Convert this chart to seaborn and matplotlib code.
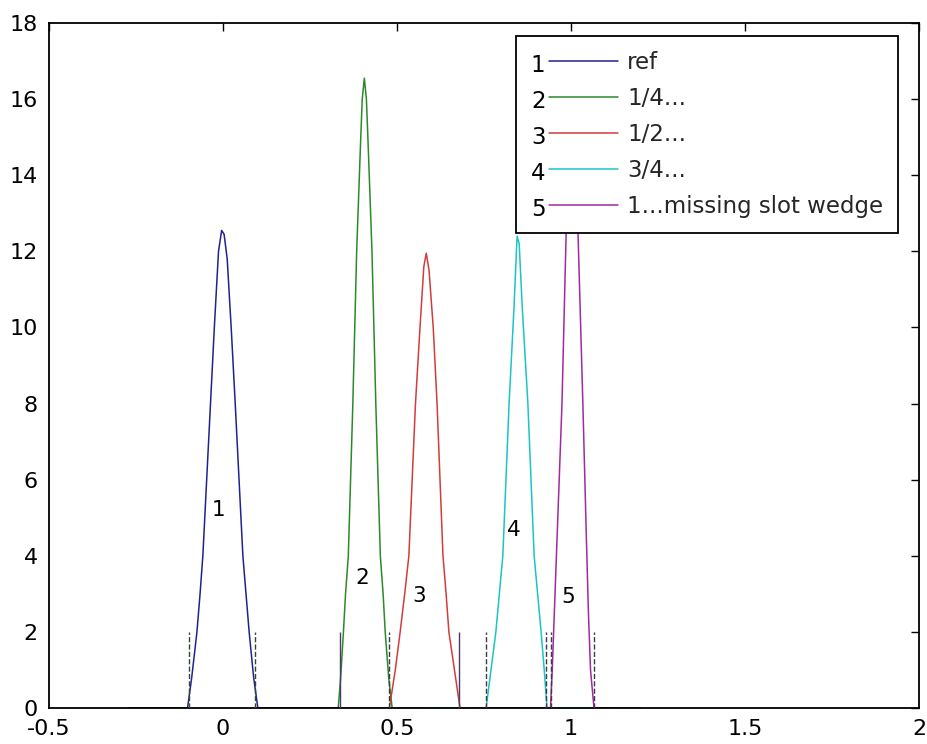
import matplotlib
matplotlib.use('Agg')
import matplotlib.pyplot as plt
import seaborn as sns
import pandas as pd
from matplotlib.legend_handler import HandlerBase
from matplotlib.lines import Line2D
from matplotlib.text import Text

# ---------------- data ----------------
names = ["ref", "1/4...", "1/2...", "3/4...", "1...missing slot wedge"]
digits = ["1", "2", "3", "4", "5"]
colors = ["#22228e", "#2a8a2a", "#d23c3c", "#1cc4c4", "#a02aa0"]

x1 = [-0.27, -0.102, -0.090, -0.075, -0.066, -0.058, -0.047, -0.036, -0.025, -0.013, -0.004,
      0.003, 0.012, 0.024, 0.035, 0.046, 0.057, 0.066, 0.075, 0.088, 0.100, 0.27]
y1 = [0, 0, 0.8, 2.0, 3.0, 4.0, 6.0, 8.0, 10.0, 12.0, 12.55,
      12.45, 11.8, 9.9, 8.0, 6.0, 4.0, 3.0, 2.0, 0.8, 0, 0]

x2 = [0.14, 0.331, 0.338, 0.346, 0.352, 0.360, 0.373, 0.384, 0.395, 0.400, 0.406,
      0.412, 0.417, 0.428, 0.439, 0.452, 0.460, 0.466, 0.476, 0.486, 0.68]
y2 = [0, 0, 0.8, 2.0, 3.0, 4.0, 8.0, 12.0, 14.8, 16.0, 16.55,
      16.0, 14.8, 12.0, 8.0, 4.0, 3.0, 2.0, 0.8, 0, 0]

x3 = [0.31, 0.478, 0.495, 0.509, 0.522, 0.534, 0.553, 0.566, 0.577, 0.584,
      0.592, 0.604, 0.615, 0.632, 0.641, 0.649, 0.665, 0.681, 0.85]
y3 = [0, 0, 1.0, 2.0, 3.0, 4.0, 8.0, 10.0, 11.6, 11.95,
      11.5, 10.0, 8.0, 4.0, 3.0, 2.0, 1.0, 0, 0]

x4 = [0.58, 0.756, 0.770, 0.784, 0.794, 0.804, 0.822, 0.836, 0.845,
      0.851, 0.860, 0.876, 0.894, 0.904, 0.914, 0.923, 0.931, 1.12]
y4 = [0, 0, 1.0, 2.0, 3.0, 4.0, 8.0, 10.5, 12.4,
      12.2, 10.5, 8.0, 4.0, 3.0, 2.0, 1.0, 0, 0]

x5 = [0.73, 0.941, 0.946, 0.950, 0.956, 0.974, 0.986, 0.996,
      1.004, 1.020, 1.034, 1.044, 1.050, 1.056, 1.066, 1.20]
y5 = [0, 0, 1.0, 2.0, 3.5, 8.0, 12.5, 14.5,
      14.5, 12.5, 8.0, 4.5, 2.5, 1.0, 0, 0]

marker_x = [-0.098, 0.092, 0.336, 0.477, 0.679, 0.756, 0.928, 0.943, 1.066]
marker_top = [2.0, 2.0, 2.0, 2.0, 2.0, 2.0, 2.0, 2.0, 2.0]
marker_style = ["--", "--", "-", "--", "-", "--", "--", "--", "--"]
marker_color = ["#2f4a2f", "#2f4a2f", "#4a3a6a", "#3a3a4a", "#4a3a6a",
                "#3a3a4a", "#3a3a4a", "#3a3a4a", "#3a3a4a"]

label_x = [-0.014, 0.400, 0.563, 0.836, 0.991]
label_y = [5.2, 3.42, 2.94, 4.68, 2.92]

xticks = [-0.5, 0, 0.5, 1, 1.5, 2]
xtick_labels = ["-0.5", "0", "0.5", "1", "1.5", "2"]
yticks = [0, 2, 4, 6, 8, 10, 12, 14, 16, 18]
ytick_labels = ["0", "2", "4", "6", "8", "10", "12", "14", "16", "18"]

# ---------------- frame ----------------
sns.set_style("white")
plt.rcParams["font.family"] = ["DejaVu Sans"]

fig = plt.figure(figsize=(9.27, 7.44), dpi=100)
ax = fig.add_axes([0.0529, 0.0484, 0.9385, 0.9207])

xs = [x1, x2, x3, x4, x5]
ys = [y1, y2, y3, y4, y5]
frames = []
for n, xx, yy in zip(names, xs, ys):
    frames.append(pd.DataFrame({"x": xx, "y": yy, "series": n}))
df = pd.concat(frames, ignore_index=True)

sns.lineplot(data=df, x="x", y="y", hue="series", hue_order=names,
             palette=dict(zip(names, colors)), estimator=None, sort=False,
             legend=False, linewidth=1.1, ax=ax)

for mx, mt, ms, mc in zip(marker_x, marker_top, marker_style, marker_color):
    ax.vlines(mx, 0, mt, colors=mc, linestyles=ms, linewidth=1.0, zorder=3)

for d, lx, ly in zip(digits, label_x, label_y):
    ax.text(lx, ly, d, ha="center", va="center", fontsize=15.5, color="black")

ax.set_xlim(-0.5, 2)
ax.set_ylim(0, 18)
ax.set_xticks(xticks)
ax.set_xticklabels(xtick_labels)
ax.set_yticks(yticks)
ax.set_yticklabels(ytick_labels)
ax.set_xlabel("")
ax.set_ylabel("")
ax.tick_params(direction="in", length=6, width=1, top=True, right=True,
               labelsize=16, pad=8, colors="black")
for s in ax.spines.values():
    s.set_visible(True)
    s.set_color("black")
    s.set_linewidth(1.3)


# ---------------- legend ----------------
class Key:
    def __init__(self, digit, color):
        self.digit = digit
        self.color = color


class KeyHandler(HandlerBase):
    def create_artists(self, legend, orig_handle, xdescent, ydescent,
                       width, height, fontsize, trans):
        yc = height / 2 - ydescent
        t = Text(-xdescent, yc - 0.2 * fontsize, orig_handle.digit,
                 fontsize=fontsize, color="black", ha="left", va="center",
                 transform=trans)
        ln = Line2D([-xdescent + 0.78 * fontsize, -xdescent + width], [yc, yc],
                    color=orig_handle.color, linewidth=1.1, transform=trans)
        return [t, ln]


keys = [Key(d, c) for d, c in zip(digits, colors)]
leg = ax.legend(handles=keys, labels=names, handler_map={Key: KeyHandler()},
                loc="upper right", bbox_to_anchor=(0.976, 0.981), borderaxespad=0,
                frameon=True, fancybox=False, edgecolor="black", framealpha=1,
                fontsize=16.5, handlelength=3.8, handletextpad=0.4,
                labelspacing=0.57, borderpad=0.65)
leg.get_frame().set_linewidth(1.3)

fig.savefig("out.png", dpi=100)
